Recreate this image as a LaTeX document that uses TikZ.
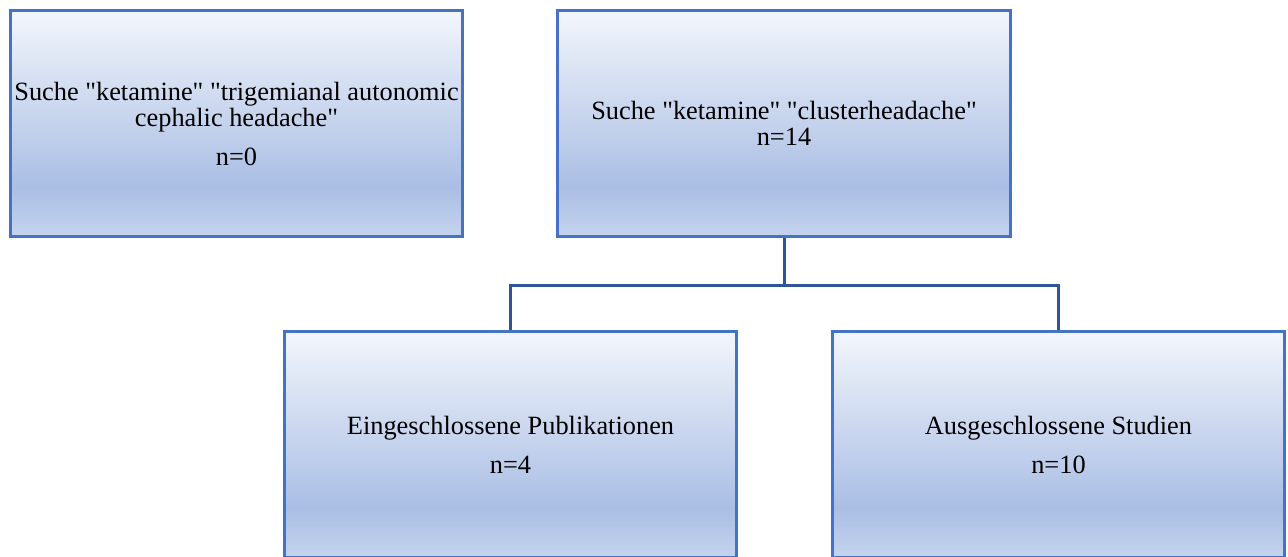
\documentclass[tikz,border=0pt]{standalone}
\usepackage{fontspec}
\setmainfont{Liberation Serif}
\usetikzlibrary{calc}
\definecolor{boxline}{HTML}{4472C4}
\definecolor{linkline}{HTML}{2F5597}
\definecolor{shadetop}{HTML}{F3F6FC}
\definecolor{shademid}{HTML}{AABEE4}
\definecolor{shadebot}{HTML}{C5D4EE}
\pgfdeclareverticalshading{boxshade}{100bp}{color(0bp)=(shadebot); color(25bp)=(shadebot); color(36bp)=(shademid); color(75bp)=(shadetop); color(100bp)=(shadetop)}
\newcommand{\dq}{\textquotedbl}

\begin{document}
\begin{tikzpicture}[x=0.02cm, y=-0.02cm,
	box/.style={draw=boxline, line width=0.06cm, shade, shading=boxshade, minimum width=9.06cm, minimum height=4.54cm, align=center, inner sep=0pt, font=\fontsize{15}{14.8}\selectfont},
	link/.style={draw=linkline, line width=0.06cm}]
	%%%%% START %%%%%
	
	\useasboundingbox (0,0) rectangle (1288,556);
	
	\node[box] (search1) at (236.5,123.5) {Suche \dq ketamine\dq{} \dq trigemianal autonomic\\cephalic headache\dq\\[7.4pt]n=0};
	\node[box] (search2) at (784,123.5) {Suche \dq ketamine\dq{} \dq clusterheadache\dq\\n=14};
	
	\node[box] (included) at (510.5,444.5) {Eingeschlossene Publikationen\\[7.4pt]n=4};
	\node[box] (excluded) at (1058.5,444.5) {Ausgeschlossene Studien\\[7.4pt]n=10};
	
	\coordinate (fork) at (search2.south |- 0,285);
	\draw[link] (search2.south) -- (fork) -| (included.north);
	\draw[link] (fork) -| (excluded.north);
	
	%%%%% END %%%%%
\end{tikzpicture}
\end{document}
